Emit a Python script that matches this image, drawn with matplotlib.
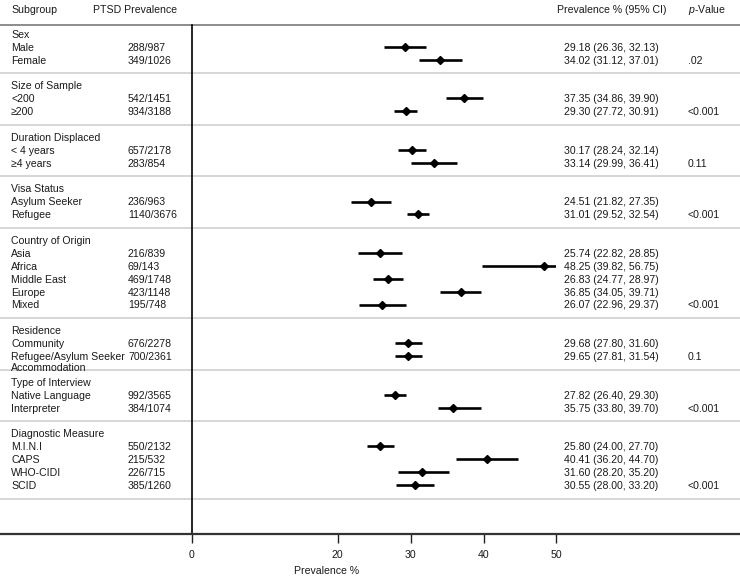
import matplotlib
matplotlib.use("Agg")
import matplotlib.pyplot as plt
from matplotlib.patches import Rectangle
import numpy as np

plt.rcParams['font.family'] = ['Liberation Sans', 'DejaVu Sans']
plt.rcParams['mathtext.fontset'] = 'custom'
plt.rcParams['mathtext.it'] = 'Liberation Sans:italic'
plt.rcParams['mathtext.rm'] = 'Liberation Sans'

# ---------------- data ----------------
groups = ["Sex", "Size of Sample", "Duration Displaced", "Visa Status",
          "Country of Origin", "Residence", "Type of Interview", "Diagnostic Measure"]
subgroups = [
    ["Male", "Female"],
    ["<200", "\u2265200"],
    ["< 4 years", "\u22654 years"],
    ["Asylum Seeker", "Refugee"],
    ["Asia", "Africa", "Middle East", "Europe", "Mixed"],
    ["Community", "Refugee/Asylum Seeker\nAccommodation"],
    ["Native Language", "Interpreter"],
    ["M.I.N.I", "CAPS", "WHO-CIDI", "SCID"],
]
counts = [
    ["288/987", "349/1026"],
    ["542/1451", "934/3188"],
    ["657/2178", "283/854"],
    ["236/963", "1140/3676"],
    ["216/839", "69/143", "469/1748", "423/1148", "195/748"],
    ["676/2278", "700/2361"],
    ["992/3565", "384/1074"],
    ["550/2132", "215/532", "226/715", "385/1260"],
]
estimates = [
    [29.18, 34.02],
    [37.35, 29.30],
    [30.17, 33.14],
    [24.51, 31.01],
    [25.74, 48.25, 26.83, 36.85, 26.07],
    [29.68, 29.65],
    [27.82, 35.75],
    [25.80, 40.41, 31.60, 30.55],
]
ci_low = [
    [26.36, 31.12],
    [34.86, 27.72],
    [28.24, 29.99],
    [21.82, 29.52],
    [22.82, 39.82, 24.77, 34.05, 22.96],
    [27.80, 27.81],
    [26.40, 33.80],
    [24.00, 36.20, 28.20, 28.00],
]
ci_high = [
    [32.13, 37.01],
    [39.90, 30.91],
    [32.14, 36.41],
    [27.35, 32.54],
    [28.85, 56.75, 28.97, 39.71, 29.37],
    [31.60, 31.54],
    [29.30, 39.70],
    [27.70, 44.70, 35.20, 33.20],
]
p_values = [".02", "<0.001", "0.11", "<0.001", "<0.001", "0.1", "<0.001", "<0.001"]
x_ticks = [0, 20, 30, 40, 50]
x_max_forest = 50

# ---------------- layout ----------------
W, H, DPI = 740, 579, 100
fig = plt.figure(figsize=(W / DPI, H / DPI), dpi=DPI)
axis_px = 534
ax = fig.add_axes([0, (H - axis_px) / H, 1, axis_px / H])

px_per_unit = 7.29
zero_px = 192
row_px = 12.89
first_row_px = 34

ax.set_xlim(-zero_px / px_per_unit, (W - zero_px) / px_per_unit)
ax.set_ylim((axis_px - first_row_px) / row_px, -first_row_px / row_px)

def xv(px):
    return (px - zero_px) / px_per_unit

def yr(px):
    return (px - first_row_px) / row_px

FS = 7.6
TXT = '#1a1a1a'
TOFF = 0.06  # small downward text nudge (rows)
x_label_col = xv(11)
x_count_col = xv(128)
x_ci_col = xv(564)
x_p_col = xv(688)

clip_rect = Rectangle((0, -50), x_max_forest, 200, transform=ax.transData,
                      facecolor='none', edgecolor='none')
ax.add_patch(clip_rect)

r = 0
for g, name in enumerate(groups):
    ax.text(x_label_col, r + TOFF, name, fontsize=FS, color=TXT, va='center', ha='left')
    n = len(subgroups[g])
    for i in range(n):
        rr = r + 1 + i
        lines = subgroups[g][i].split("\n")
        for k, ln in enumerate(lines):
            ax.text(x_label_col, rr + TOFF + 0.86 * k, ln, fontsize=FS, color=TXT,
                    va='center', ha='left')
        ax.text(x_count_col, rr + TOFF, counts[g][i], fontsize=FS, color=TXT,
                va='center', ha='left')
        ci_txt = f"{estimates[g][i]:.2f} ({ci_low[g][i]:.2f}, {ci_high[g][i]:.2f})"
        ax.text(x_ci_col, rr + TOFF, ci_txt, fontsize=FS, color=TXT,
                va='center', ha='left')
        ln_obj = ax.plot([ci_low[g][i], ci_high[g][i]], [rr, rr], color='black',
                         lw=1.9, solid_capstyle='butt', zorder=3)[0]
        ln_obj.set_clip_path(clip_rect)
        ax.plot(estimates[g][i], rr, marker='D', color='black', markersize=4.5,
                zorder=4)
        if i == n - 1:
            ax.text(x_p_col, rr + TOFF, p_values[g], fontsize=FS, color=TXT,
                    va='center', ha='left')
    sep = r + n + 1.05
    ax.axhline(sep, color='#cfcfcf', lw=1.2, zorder=1)
    r = r + n + 2

# header
hdr_y = yr(9) + TOFF
ax.text(x_label_col, hdr_y, "Subgroup", fontsize=FS, color=TXT, va='center', ha='left')
ax.text(xv(93), hdr_y, "PTSD Prevalence", fontsize=FS, color=TXT, va='center', ha='left')
ax.text(xv(557), hdr_y, "Prevalence % (95% CI)", fontsize=FS, color=TXT,
        va='center', ha='left')
ax.text(x_p_col, hdr_y, r"$p$-Value", fontsize=FS, color=TXT, va='center', ha='left')
ax.axhline(yr(25), color='#6e6e6e', lw=1.1, zorder=1)

# zero line
ax.plot([0, 0], [yr(25), ax.get_ylim()[0]], color='black', lw=1.2, zorder=2)

# axis
for s in ['top', 'left', 'right']:
    ax.spines[s].set_visible(False)
ax.spines['bottom'].set_color('#333333')
ax.spines['bottom'].set_linewidth(1.6)
ax.set_yticks([])
ax.set_xticks(x_ticks)
ax.set_xticklabels([str(t) for t in x_ticks])
ax.tick_params(axis='x', direction='out', length=6.3, width=1.0, color='#222222',
               labelsize=FS, labelcolor=TXT, pad=5)
ax.set_xlabel("Prevalence %", fontsize=FS, color=TXT)
x0, x1 = ax.get_xlim()
ax.xaxis.set_label_coords((xv(327) - x0) / (x1 - x0), -(566 - axis_px) / axis_px)
ax.patch.set_alpha(0)

fig.savefig("out.png", dpi=DPI, facecolor='white')
